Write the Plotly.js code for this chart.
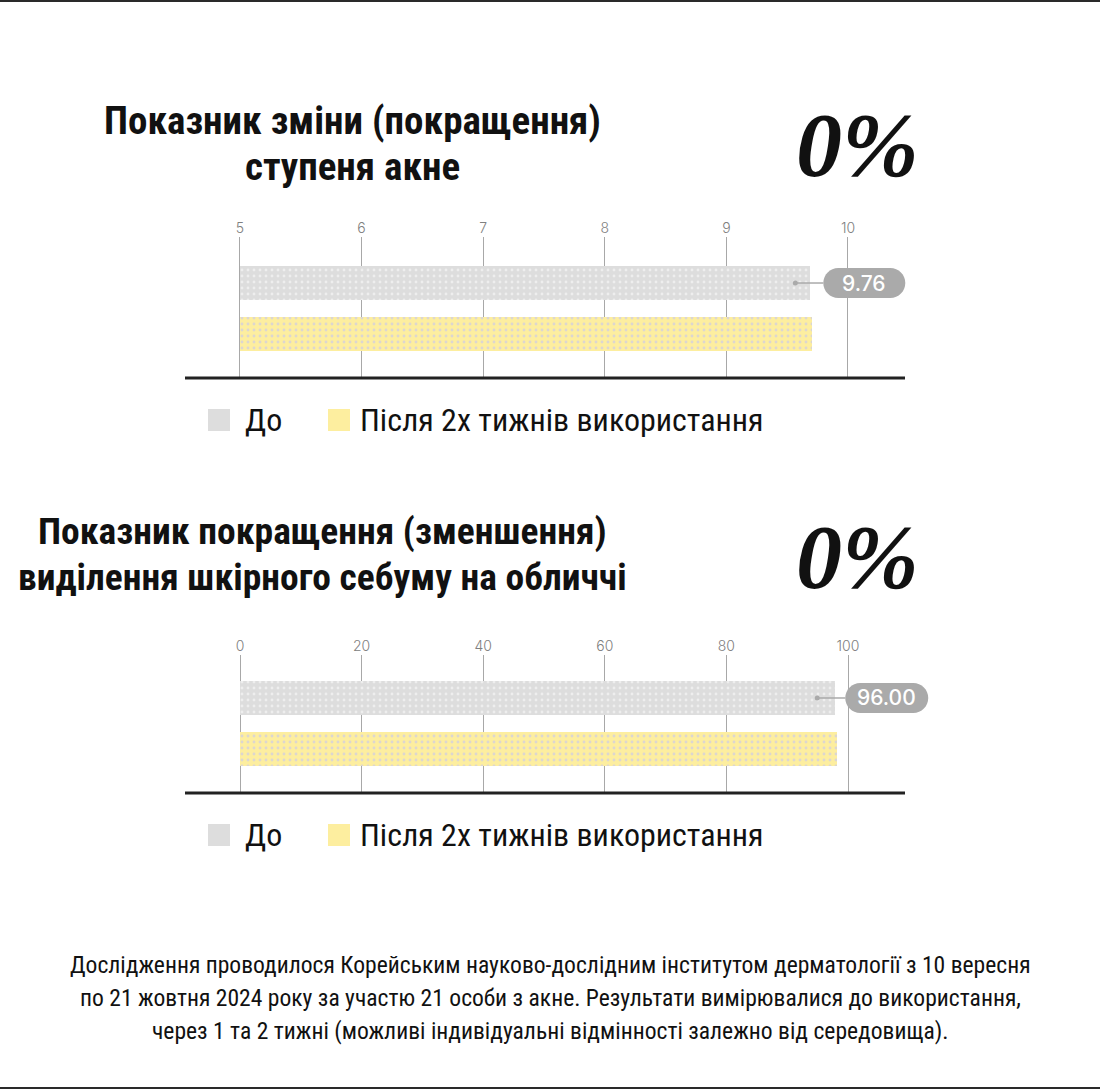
<!DOCTYPE html>
<html>
<head>
<meta charset="utf-8">
<script src="https://cdn.plot.ly/plotly-3.0.1.min.js"></script>
<style>html,body{margin:0;padding:0;background:#fff;}#chart{width:1100px;height:1090px;}</style>
</head>
<body>
<div id="chart"></div>
<script>
// ---- data ----
const categories = ['До', 'Після 2х тижнів використання'];
const acneValues = [9.69, 9.70];
const acneTicks = [5, 6, 7, 8, 9, 10];
const sebumValues = [97.9, 98.2];
const sebumTicks = [0, 20, 40, 60, 80, 100];
const labelValues = ['9.76', '96.00'];
const headlineValues = ['0%', '0%'];
const titles1 = ['Показник зміни (покращення)', 'ступеня акне'];
const titles2 = ['Показник покращення (зменшення)', 'виділення шкірного себуму на обличчі'];
const footerLines = [
  'Дослідження проводилося Корейським науково-дослідним інститутом дерматології з 10 вересня',
  'по 21 жовтня 2024 року за участю 21 особи з акне. Результати вимірювалися до використання,',
  'через 1 та 2 тижні (можливі індивідуальні відмінності залежно від середовища).'
];

// ---- styles ----
const W = 1100, H = 1090;
const px = x => x / W;
const py = y => 1 - y / H;
const COND = '"Roboto Condensed", "Liberation Sans Narrow", "DejaVu Sans Condensed", "Arial Narrow", Roboto, sans-serif';
const SERIF = '"Liberation Serif", "DejaVu Serif", serif';
const barColors = ['#dddddd', '#fdee9f'];
const dotColors = ['#eeeeee', '#dcd6d0'];

function barTrace(vals, base, xa, ya, i) {
  return {
    type: 'bar', orientation: 'h',
    base: [base], x: [vals[i] - base], y: [categories[i]],
    xaxis: xa, yaxis: ya,
    width: 0.673,
    marker: {color: barColors[i], line: {width: 0},
      pattern: {shape: '.', bgcolor: barColors[i], fgcolor: dotColors[i], size: 6, solidity: 0.18}},
    hoverinfo: 'skip', showlegend: false
  };
}

const traces = [
  barTrace(acneValues, acneTicks[0], 'x', 'y', 0),
  barTrace(acneValues, acneTicks[0], 'x', 'y', 1),
  barTrace(sebumValues, sebumTicks[0], 'x2', 'y2', 0),
  barTrace(sebumValues, sebumTicks[0], 'x2', 'y2', 1)
];

function xaxisDef(ticks, range, anchor) {
  return {
    domain: [px(185), px(1000)], range: range, anchor: anchor, side: 'top',
    tickvals: ticks, ticktext: ticks.map(String),
    showgrid: true, gridcolor: '#a8a8a8', gridwidth: 1,
    zeroline: false, showline: false, ticks: '',
    tickfont: {family: 'Inter, Roboto, sans-serif', size: 14, color: '#808080', weight: 300},
    fixedrange: true
  };
}
function yaxisDef(domain, range) {
  return {domain: domain, range: range, type: 'category', showticklabels: false,
    showgrid: false, zeroline: false, showline: false, ticks: '', fixedrange: true};
}

const shapes = [];
const annotations = [];

// frame lines
shapes.push({type: 'line', xref: 'paper', yref: 'paper', x0: 0, x1: 1, y0: py(1), y1: py(1), line: {color: '#2a2a2a', width: 2}});
shapes.push({type: 'line', xref: 'paper', yref: 'paper', x0: 0, x1: 1, y0: py(1088), y1: py(1088), line: {color: '#2a2a2a', width: 2}});

function chartDecor(xa, ya, vals, label, titleLines, titleSize, titleCX, titleY, headY, legendY, pillL, pillW, dotOff) {
  // baseline
  shapes.push({type: 'line', xref: 'paper', yref: ya + ' domain', x0: px(185), x1: px(905), y0: 0, y1: 0,
    line: {color: '#222', width: 3}});
  const v = vals[0];
  const r = 15, k = 8.28, L = pillL, R = pillL + pillW;
  const path = `M ${L + r},-15 L ${R - r},-15 C ${R - r + k},-15 ${R},-${k} ${R},0 C ${R},${k} ${R - r + k},15 ${R - r},15 L ${L + r},15 C ${L + r - k},15 ${L},${k} ${L},0 C ${L},-${k} ${L + r - k},-15 ${L + r},-15 Z`;
  shapes.push({type: 'path', xref: xa, yref: ya, xsizemode: 'pixel', ysizemode: 'pixel', xanchor: v, yanchor: 0,
    path: path, fillcolor: '#aaaaaa', line: {width: 0}});
  shapes.push({type: 'line', xref: xa, yref: ya, xsizemode: 'pixel', ysizemode: 'pixel', xanchor: v, yanchor: 0,
    x0: dotOff, x1: L, y0: 0, y1: 0, line: {color: '#aaaaaa', width: 1.5}});
  shapes.push({type: 'circle', xref: xa, yref: ya, xsizemode: 'pixel', ysizemode: 'pixel', xanchor: v, yanchor: 0,
    x0: dotOff - 2.5, x1: dotOff + 2.5, y0: -2.5, y1: 2.5, fillcolor: '#aaaaaa', line: {width: 0}});
  annotations.push({xref: xa, yref: ya, x: v, y: 0, xshift: L + pillW / 2, showarrow: false,
    text: label, font: {family: 'Inter, Roboto, sans-serif', size: 21, color: '#ffffff', weight: 500},
    xanchor: 'center', yanchor: 'middle'});
  // titles
  titleLines.forEach((t, i) => {
    annotations.push({xref: 'paper', yref: 'paper', x: px(titleCX), y: py(titleY + i * 46), showarrow: false,
      text: '<b>' + t + '</b>', font: {family: COND, size: titleSize, color: '#111'}, xanchor: 'center', yanchor: 'middle'});
  });
  // legend
  const items = [{sx: 208, tx: 243}, {sx: 328, tx: 358}];
  items.forEach((it, i) => {
    shapes.push({type: 'rect', xref: 'paper', yref: 'paper', x0: px(it.sx), x1: px(it.sx + 22),
      y0: py(legendY + 11), y1: py(legendY - 11), fillcolor: barColors[i], line: {width: 0}});
    annotations.push({xref: 'paper', yref: 'paper', x: px(it.tx), y: py(legendY), showarrow: false,
      text: categories[i], font: {family: COND, size: 32, color: '#111'}, xanchor: 'left', yanchor: 'middle'});
  });
}

chartDecor('x', 'y', acneValues, labelValues[0], titles1, 39, 352, 121, 145, 420, 13, 82, -15);
chartDecor('x2', 'y2', sebumValues, labelValues[1], titles2, 37.5, 322, 531, 557, 835, 10, 83, -18);

// headline numbers
[145, 557].forEach((yy, i) => {
  annotations.push({xref: 'paper', yref: 'paper', x: px(857), y: py(yy), showarrow: false,
    text: '<b><i>' + headlineValues[i] + '</i></b>', font: {family: SERIF, size: 92, color: '#111'},
    xanchor: 'center', yanchor: 'middle'});
});

// footer
footerLines.forEach((t, i) => {
  annotations.push({xref: 'paper', yref: 'paper', x: 0.5, y: py(965 + i * 33), showarrow: false,
    text: t, font: {family: COND, size: 23.6, color: '#111'}, xanchor: 'center', yanchor: 'middle'});
});

const layout = {
  width: W, height: H,
  margin: {l: 0, r: 0, t: 0, b: 0},
  paper_bgcolor: '#ffffff', plot_bgcolor: 'rgba(0,0,0,0)',
  showlegend: false, bargap: 0,
  xaxis: xaxisDef(acneTicks, [4.548, 11.25], 'y'),
  yaxis: yaxisDef([py(378), py(237)], [1.881, -0.911]),
  xaxis2: xaxisDef(sebumTicks, [-9.05, 125.0], 'y2'),
  yaxis2: yaxisDef([py(793), py(655)], [1.881, -0.851]),
  shapes: shapes,
  annotations: annotations
};

Plotly.newPlot('chart', traces, layout, {displayModeBar: false, staticPlot: true});
</script>
</body>
</html>
